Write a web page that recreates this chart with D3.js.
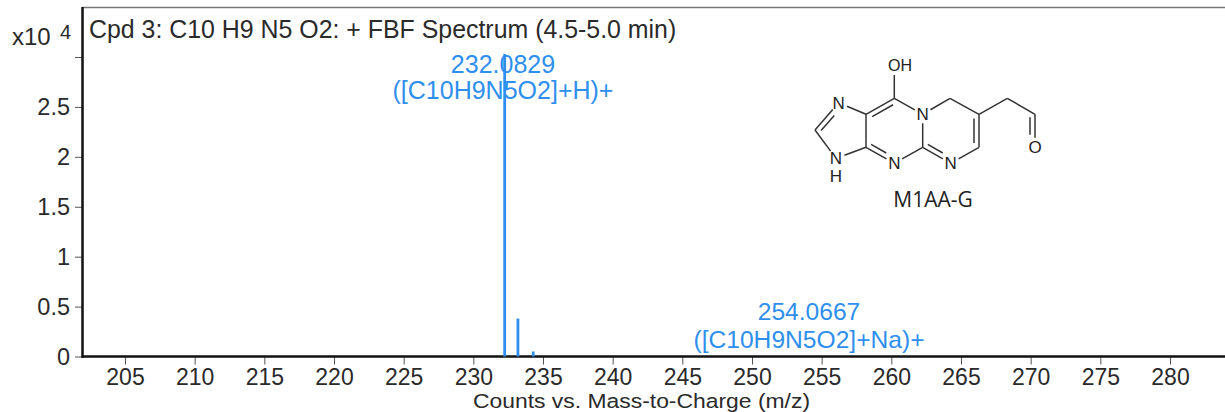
<!DOCTYPE html>
<html><head><meta charset="utf-8">
<script src="https://cdn.jsdelivr.net/npm/d3@7/dist/d3.min.js"></script>
<style>
html,body{margin:0;padding:0;background:#fff}
svg{display:block}
text{font-family:"Liberation Sans",Arial,sans-serif}
</style></head><body>
<svg id="c" width="1225" height="412"></svg>
<script>
const xTicks=[205,210,215,220,225,230,235,240,245,250,255,260,265,270,275,280];
const yTicks=[0,0.5,1,1.5,2,2.5,3];
const yTickLabels=["0","0.5","1","1.5","2","2.5",""];
const mz=[232.25,233.2,234.3];
const intensity=[3.03,0.38,0.05];
const annotationMz=[232.0829,254.0667];
const annotationIon=["([C10H9N5O2]+H)+","([C10H9N5O2]+Na)+"];
const title="Cpd 3: C10 H9 N5 O2: + FBF Spectrum (4.5-5.0 min)";
const xLabel="Counts vs. Mass-to-Charge (m/z)";
const blue="#2f8fee",ink="#2a2a2a";

const svg=d3.select("#c");
const x=d3.scaleLinear().domain([205,280]).range([125,1170]);
const y=d3.scaleLinear().domain([0,3]).range([356.5,57]);

// x axis
const gx=svg.append("g").attr("transform","translate(0,356.5)")
 .call(d3.axisBottom(x).tickValues(xTicks).tickSize(8).tickPadding(4).tickFormat(d3.format("d")));
gx.select(".domain").remove();
gx.selectAll("line").attr("stroke","#555").attr("stroke-width",1);
gx.selectAll("text").attr("font-size",23).attr("fill",ink).attr("dy",null).attr("y",28);
// y axis
const gy=svg.append("g").attr("transform","translate(82,0)")
 .call(d3.axisLeft(y).tickValues(yTicks).tickSize(7).tickPadding(5).tickFormat((d,i)=>yTickLabels[i]));
gy.select(".domain").remove();
gy.selectAll("line").attr("stroke","#555").attr("stroke-width",1);
gy.selectAll("text").attr("font-size",23.5).attr("fill",ink);

// frame
svg.append("line").attr("x1",82).attr("x2",1225).attr("y1",7.5).attr("y2",7.5).attr("stroke","#777").attr("stroke-width",1.5);
svg.append("line").attr("x1",82.5).attr("x2",82.5).attr("y1",7).attr("y2",358).attr("stroke","#111").attr("stroke-width",2.5);
svg.append("line").attr("x1",82).attr("x2",1225).attr("y1",356.5).attr("y2",356.5).attr("stroke","#111").attr("stroke-width",2.5);

// sticks
svg.selectAll("line.stick").data(mz).join("line").attr("class","stick")
 .attr("x1",d=>x(d)).attr("x2",d=>x(d))
 .attr("y1",(d,i)=>y(intensity[i])).attr("y2",y(0))
 .attr("stroke",blue).attr("stroke-width",2.8);

// annotations
const ann=svg.append("g").attr("fill",blue).attr("text-anchor","middle").attr("font-size",25);
ann.append("text").attr("x",503).attr("y",73).text(annotationMz[0].toFixed(4));
ann.append("text").attr("x",503).attr("y",99).text(annotationIon[0]);
ann.append("text").attr("x",809).attr("y",320).attr("font-size",24.6).text(annotationMz[1].toFixed(4));
ann.append("text").attr("x",809).attr("y",348).attr("font-size",24.6).text(annotationIon[1]);

// titles
svg.append("text").attr("x",89).attr("y",37.5).attr("font-size",24.9).attr("fill",ink).text(title);
svg.append("text").attr("x",12).attr("y",45).attr("font-size",24).attr("fill",ink).text("x10");
svg.append("text").attr("x",60).attr("y",39).attr("font-size",20).attr("fill",ink).text("4");
svg.append("text").attr("x",473).attr("y",407.5).attr("font-size",20.5)
 .attr("textLength",337).attr("lengthAdjust","spacingAndGlyphs").attr("fill",ink).text(xLabel);

// structure inset
const atoms={
 a:[894.3,98.3],b:[866,114.3],c:[866,147.3],d:[894.3,163.3],e:[922.7,147.3],f:[922.7,114.3],
 g:[950,98.3],h:[979,114.3],i:[979,147.3],j:[950.7,163.3],
 k:[838.7,102.7],l:[815,130],m:[836,158.3],
 n:[1007.3,98.3],o:[1035,114.3],p:[1035,146.7],q:[894.3,75]};
const bonds=[["a","b"],["b","c"],["c","d"],["d","e"],["e","f"],["f","a"],["f","g"],["g","h"],["h","i"],["i","j"],["j","e"],
 ["b","k"],["k","l"],["l","m"],["m","c"],["h","n"],["n","o"],["o","p"],["a","q"]];
const doubles=[["a","b",894,131],["c","d",894,131],["e","j",951,131],["h","i",951,131],["k","l",843,131],["o","p",1000,130]];
const labels=[["k","N"],["m","N"],["d","N"],["f","N"],["j","N"],["p","O"]];
const lab=new Set(labels.map(l=>l[0]));
const mol=svg.append("g").attr("stroke","#333").attr("stroke-width",1.5).attr("fill","none");
function trim(p,q){
 const A=atoms[p],B=atoms[q],L=Math.hypot(B[0]-A[0],B[1]-A[1]);
 const ta=lab.has(p)?9/L:0,tb=lab.has(q)?9/L:0;
 return [A[0]+(B[0]-A[0])*ta,A[1]+(B[1]-A[1])*ta,B[0]-(B[0]-A[0])*tb,B[1]-(B[1]-A[1])*tb];
}
bonds.forEach(([p,q])=>{const t=trim(p,q);
 mol.append("line").attr("x1",t[0]).attr("y1",t[1]).attr("x2",t[2]).attr("y2",t[3]);});
doubles.forEach(([p,q,cx,cy])=>{
 const t=trim(p,q),vx=t[2]-t[0],vy=t[3]-t[1],L=Math.hypot(vx,vy);
 let nx=-vy/L,ny=vx/L;
 if(nx*(cx-t[0])+ny*(cy-t[1])<0){nx=-nx;ny=-ny;}
 const off=5;
 mol.append("line")
  .attr("x1",t[0]+vx*.13+nx*off).attr("y1",t[1]+vy*.13+ny*off)
  .attr("x2",t[0]+vx*.87+nx*off).attr("y2",t[1]+vy*.87+ny*off);
});
const molT=svg.append("g").attr("fill","#222").attr("font-size",17).attr("text-anchor","middle")
 .style("font-family","'Open Sans',sans-serif");
labels.forEach(([k,t])=>molT.append("text").attr("x",atoms[k][0]).attr("y",atoms[k][1]+6).text(t));
molT.append("text").attr("x",836).attr("y",182).text("H");
molT.append("text").attr("x",900).attr("y",71).attr("font-size",16).text("OH");
svg.append("text").attr("x",933).attr("y",207).attr("text-anchor","middle").attr("font-size",21)
 .attr("fill","#222").style("font-family","'Open Sans',sans-serif").text("M1AA-G");
</script></body></html>
